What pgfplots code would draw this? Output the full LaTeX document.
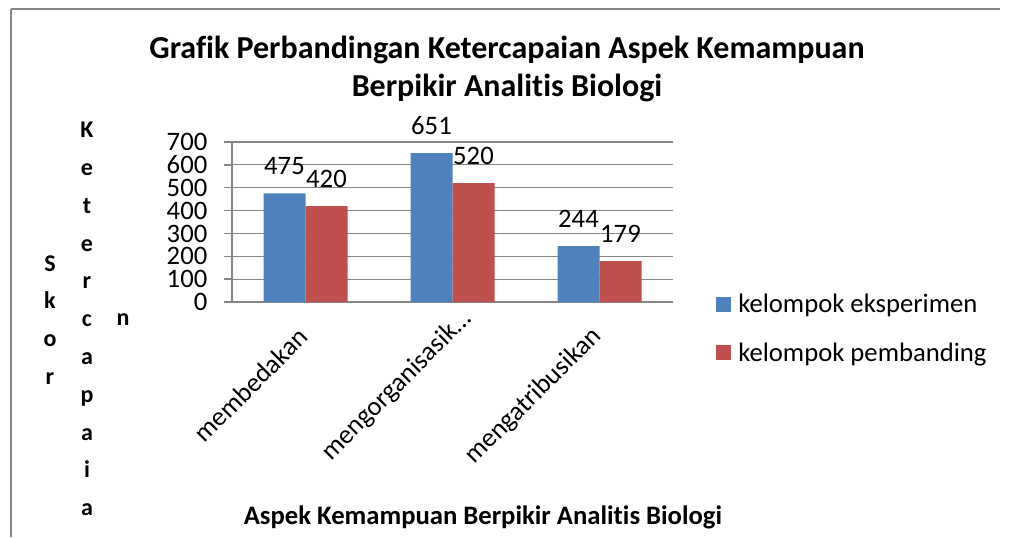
\documentclass[border=0pt]{standalone}
\usepackage{pgfplots}
\pgfplotsset{compat=1.18}
\usepackage{fontspec}
\setmainfont{Carlito}[Ligatures=NoCommon]
\definecolor{cblue}{RGB}{79,129,189}
\definecolor{cred}{RGB}{192,80,77}
\definecolor{cgrid}{RGB}{134,134,134}
\definecolor{cframe}{RGB}{134,134,134}
\begin{document}
\begin{tikzpicture}[x=0.75pt,y=-0.75pt]
\useasboundingbox (0,0) rectangle (1011,537);
\draw[cframe, line width=1.5pt] (11,537) -- (11,9);
\draw[cframe, line width=1.5pt] (11,9) -- (1000,9);
\node[font=\bfseries\fontsize{24}{28.5}\selectfont, align=center] at (507,69)
  {Grafik Perbandingan Ketercapaian Aspek Kemampuan\\Berpikir Analitis Biologi};
\node[font=\bfseries\fontsize{18}{28.35}\selectfont, align=center] at (50,320) {S\\k\\o\\r};
\node[font=\bfseries\fontsize{18}{28.35}\selectfont, align=center] at (87,319) {K\\e\\t\\e\\r\\c\\a\\p\\a\\i\\a};
\node[font=\bfseries\fontsize{18}{28.35}\selectfont] at (123,320) {n};
\begin{axis}[
  at={(174pt,-226.5pt)}, anchor=south west,
  scale only axis, width=330.75pt, height=120pt,
  ybar=0pt, bar width=31.5pt,
  xmin=-0.5, xmax=2.5, ymin=0, ymax=700,
  xtick={0,1,2},
  xticklabels={membedakan, mengorganisasik…\hspace*{-18pt}, mengatribusikan},
  x tick style={draw=none},
  extra x ticks={-0.5,0.5,1.5,2.5},
  extra x tick labels={},
  extra x tick style={grid=none, tick style={draw=cgrid, line width=1pt}},
  ytick={0,100,...,700},
  ymajorgrids, grid style={cgrid, line width=0.9pt},
  axis lines*=left,
  axis line style={cgrid, line width=1pt},
  y tick style={draw=cgrid, line width=1pt},
  tick align=outside, major tick length=6pt,
  tick label style={font=\fontsize{20}{22}\selectfont},
  /pgf/number format/assume math mode=true,
  yticklabel style={xshift=-9pt},
  xticklabel style={anchor=east, xshift=0.85pt, yshift=-14.25pt, rotate=45},
  nodes near coords,
  every node near coord/.append style={font=\fontsize{20}{22}\selectfont, anchor=south, inner sep=0pt, yshift=13.5pt, xshift=0pt},
  xlabel={Aspek Kemampuan Berpikir Analitis Biologi},
  xlabel style={font=\bfseries\fontsize{20}{22}\selectfont, at={(0.569,-1.344)}, anchor=center},
  legend style={draw=none, fill=none, at={(1.0975,-0.166)}, anchor=west,
    font=\fontsize{20}{22}\selectfont, row sep=21pt, inner sep=0pt,
    nodes={inner sep=0pt}, /tikz/every odd column/.style={column sep=5.25pt}},
  legend cell align=left,
  legend image code/.code={\fill[#1,draw=none] (0pt,-5.6pt) rectangle (11.25pt,5.6pt);},
]
\addplot[fill=cblue, draw=none] coordinates {(0,475) (1,651) (2,244)};
\addplot[fill=cred, draw=none] coordinates {(0,420) (1,520) (2,179)};
\legend{kelompok eksperimen, kelompok pembanding}
\end{axis}
\end{tikzpicture}
\end{document}
